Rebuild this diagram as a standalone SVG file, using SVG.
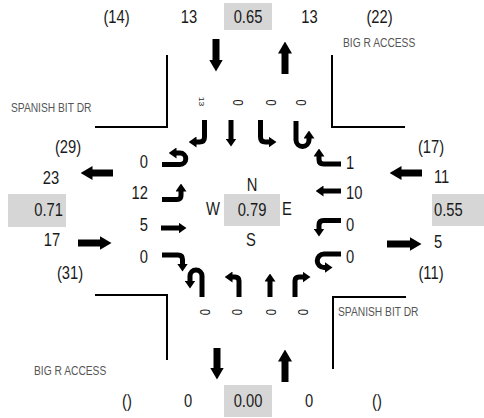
<svg xmlns="http://www.w3.org/2000/svg" width="484" height="418" viewBox="0 0 484 418">
<style>
.t{font-family:"Liberation Sans",Arial,sans-serif;font-size:18px;fill:#1a1a1a;transform-box:fill-box;transform-origin:50% 50%;transform:scaleX(0.82)}
.m{text-anchor:middle}
.s{transform-origin:0% 50%}
.e{text-anchor:end;transform-origin:100% 50%}
.st{font-family:"Liberation Sans",Arial,sans-serif;font-size:12.5px;fill:#555;transform-box:fill-box;transform-origin:0% 50%;transform:scaleX(0.82)}
.r{font-family:"Liberation Sans",Arial,sans-serif;font-size:14px;fill:#1a1a1a;text-anchor:middle;dominant-baseline:central}
.box{fill:#d6d6d6}
.curb{fill:none;stroke:#000;stroke-width:2}
.big{fill:none;stroke:#000;stroke-width:7;marker-end:url(#hb)}
.ln{fill:none;stroke:#000;stroke-width:5;marker-end:url(#hl)}
</style>
<defs>
<marker id="hb" markerUnits="userSpaceOnUse" markerWidth="12" markerHeight="14" viewBox="0 0 12 14" refX="0.5" refY="7" orient="auto"><path d="M0,0 L12,7 L0,14 Z" fill="#000"/></marker>
<marker id="hl" markerUnits="userSpaceOnUse" markerWidth="8" markerHeight="11" viewBox="0 0 8 11" refX="0.5" refY="5.5" orient="auto"><path d="M0,0 L8,5.5 L0,11 Z" fill="#000"/></marker>
</defs>

<g id="boxes">
<rect class="box" x="224" y="3" width="48" height="27"/>
<rect class="box" x="224" y="385" width="48" height="32"/>
<rect class="box" x="8" y="194" width="58" height="33"/>
<rect class="box" x="432" y="194" width="52" height="32"/>
<rect class="box" x="224" y="194" width="56" height="32"/>
</g>

<g id="curbs">
<path class="curb" d="M95,127 H167 V55"/>
<path class="curb" d="M332,55 V127 H405"/>
<path class="curb" d="M95,295 H167 V360"/>
<path class="curb" d="M406,297 H333 V369"/>
</g>

<g id="street-labels">
<text class="st" x="11" y="112.5">SPANISH BIT DR</text>
<text class="st" x="343" y="47.5">BIG R ACCESS</text>
<text class="st" x="34" y="375.5">BIG R ACCESS</text>
<text class="st" x="338" y="316.5">SPANISH BIT DR</text>
</g>

<g id="connectors">
<path class="big" d="M216,39 V60"/>
<path class="big" d="M285,74 V53"/>
<path class="big" d="M217,348 V368"/>
<path class="big" d="M285,382 V361"/>
<path class="big" d="M113,173 H92"/>
<path class="big" d="M78,243 H100"/>
<path class="big" d="M422,173 H401"/>
<path class="big" d="M387,244 H410"/>
</g>

<g id="north-lanes">
<path class="ln" d="M204.5,120 V137 Q204.5,142 199.5,142 H196"/>
<path class="ln" d="M231,120 V139"/>
<path class="ln" d="M260.5,120 V137 Q260.5,142 265.5,142 H269"/>
<path class="ln" d="M296,121 V140 A6.5,6.5 0 0 0 309,140 V138"/>
</g>
<g id="south-lanes">
<path class="ln" d="M202,297 V276 A6,6 0 0 0 190,276 V281"/>
<path class="ln" d="M239,297 V281 Q239,277 235,277 H232"/>
<path class="ln" d="M270,297 V281"/>
<path class="ln" d="M295,297 V281 Q295,277 299,277 H303"/>
</g>
<g id="west-lanes">
<path class="ln" d="M162,164.5 H180 A5.75,5.75 0 0 0 180,153 H176"/>
<path class="ln" d="M162,199.5 H177 Q181,199.5 181,195.5 V191"/>
<path class="ln" d="M161,228 H179"/>
<path class="ln" d="M162,255 H178 Q182.5,255 182.5,259.5 V264"/>
</g>
<g id="east-lanes">
<path class="ln" d="M341,164 H323.5 Q319,164 319,159.5 V156"/>
<path class="ln" d="M341,191 H323"/>
<path class="ln" d="M341,220.5 H323.5 Q319,220.5 319,225 V229"/>
<path class="ln" d="M341,254 H324 A6.75,6.75 0 0 0 324,267.5 H325"/>
</g>

<g id="north-labels">
<text class="t m" x="116.5" y="23.5">(14)</text>
<text class="t m" x="189" y="23.5">13</text>
<text class="t m" x="248" y="23.5">0.65</text>
<text class="t m" x="309.5" y="23.5">13</text>
<text class="t m" x="379.5" y="23.5">(22)</text>
<text class="r" style="font-size:9px" transform="translate(201.5,101.5) rotate(90) scale(0.95,0.9)">13</text>
<text class="r" transform="translate(237.7,102.5) rotate(90) scale(0.8,1)">0</text>
<text class="r" transform="translate(270,102.5) rotate(90) scale(0.8,1)">0</text>
<text class="r" transform="translate(300.5,102.5) rotate(90) scale(0.8,1)">0</text>
</g>

<g id="west-labels">
<text class="t m" x="68" y="153">(29)</text>
<text class="t m" x="51" y="184.5">23</text>
<text class="t e" x="63" y="216.5">0.71</text>
<text class="t m" x="52" y="246.5">17</text>
<text class="t m" x="70" y="279.5">(31)</text>
<text class="t e" x="148" y="168.5">0</text>
<text class="t e" x="148" y="199.5">12</text>
<text class="t e" x="148" y="231.5">5</text>
<text class="t e" x="148" y="263.5">0</text>
</g>

<g id="east-labels">
<text class="t m" x="431" y="153">(17)</text>
<text class="t s" x="434" y="183.5">11</text>
<text class="t s" x="434" y="216.5">0.55</text>
<text class="t s" x="434" y="248.5">5</text>
<text class="t m" x="431" y="279.5">(11)</text>
<text class="t s" x="346" y="169.5">1</text>
<text class="t s" x="346" y="199.5">10</text>
<text class="t s" x="346" y="231.5">0</text>
<text class="t s" x="346" y="263.5">0</text>
</g>

<g id="center">
<text class="t m" x="252" y="191.5">N</text>
<text class="t m" x="213" y="215.5">W</text>
<text class="t m" x="252" y="216.5">0.79</text>
<text class="t m" x="287" y="215.5">E</text>
<text class="t m" x="251" y="246.5">S</text>
</g>

<g id="south-labels">
<text class="r" transform="translate(204,312) rotate(90) scale(0.8,1)">0</text>
<text class="r" transform="translate(236,312) rotate(90) scale(0.8,1)">0</text>
<text class="r" transform="translate(270,312) rotate(90) scale(0.8,1)">0</text>
<text class="r" transform="translate(302,312) rotate(90) scale(0.8,1)">0</text>
<text class="t m" x="127" y="407.5">()</text>
<text class="t m" x="188" y="407.5">0</text>
<text class="t m" x="248" y="407.5">0.00</text>
<text class="t m" x="309" y="407.5">0</text>
<text class="t m" x="377" y="407.5">()</text>
</g>
</svg>
